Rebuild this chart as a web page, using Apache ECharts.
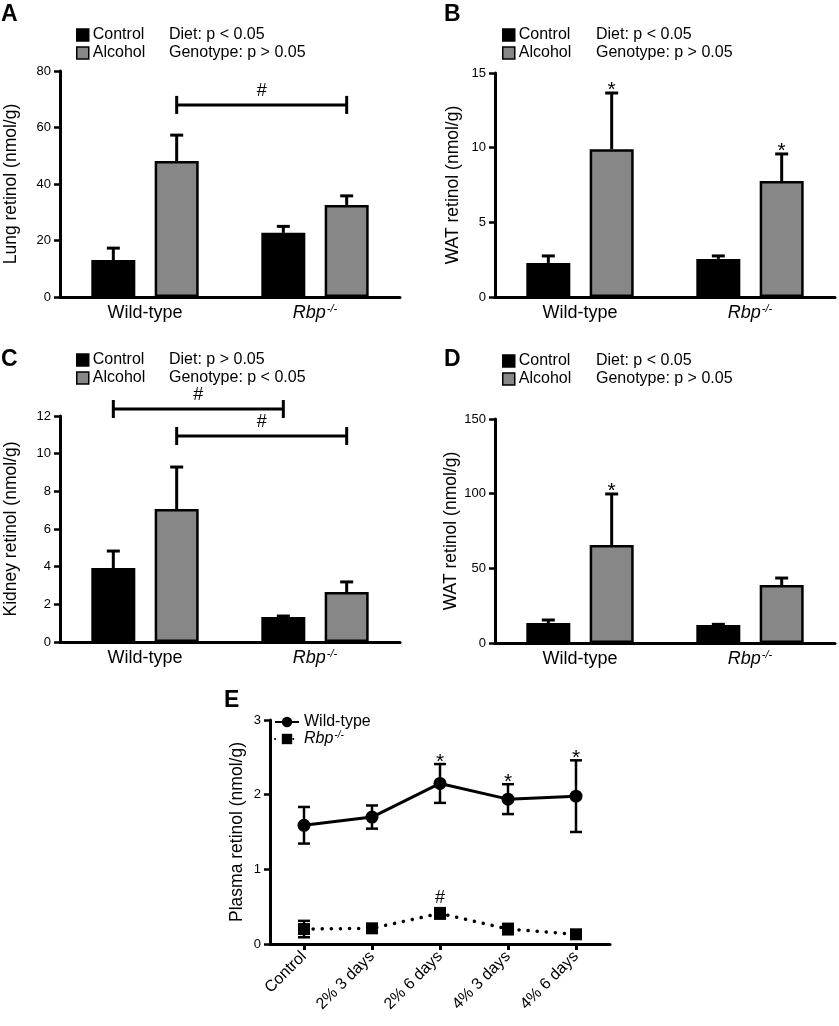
<!DOCTYPE html>
<html><head><meta charset="utf-8">
<script src="https://cdn.jsdelivr.net/npm/echarts@6/dist/echarts.min.js"></script>
<style>html,body{margin:0;padding:0;background:#fff}#c{width:839px;height:1026px}</style>
</head><body><div id="c"></div>
<script>
// ---------------- DATA ----------------
const groups = ['Wild-type', 'Rbp-/-'];
const barSeriesNames = ['Control', 'Alcohol'];

// Panel A: Lung retinol (nmol/g)
const lungControl = [13.1, 22.7];
const lungControlErr = [4.2, 2.3];
const lungAlcohol = [48.1, 32.6];
const lungAlcoholErr = [9.2, 3.2];
const lungMarks = [['', ''], ['', '']];
const lungBrackets = [[0, 1, 1, 1, 68, '#']]; // fromGroup, fromSeries, toGroup, toSeries, value, label
const lungStats = ['Diet: p < 0.05', 'Genotype: p > 0.05'];

// Panel B: WAT retinol (nmol/g)
const watBControl = [2.28, 2.55];
const watBControlErr = [0.47, 0.2];
const watBAlcohol = [9.9, 7.77];
const watBAlcoholErr = [3.76, 1.81];
const watBMarks = [['', ''], ['*', '*']];
const watBBrackets = [];
const watBStats = ['Diet: p < 0.05', 'Genotype: p > 0.05'];

// Panel C: Kidney retinol (nmol/g)
const kidneyControl = [3.93, 1.33];
const kidneyControlErr = [0.9, 0.05];
const kidneyAlcohol = [7.06, 2.65];
const kidneyAlcoholErr = [2.23, 0.54];
const kidneyMarks = [['', ''], ['', '']];
const kidneyBrackets = [[0, 0, 1, 0, 12.37, '#'], [0, 1, 1, 1, 10.94, '#']];
const kidneyStats = ['Diet: p > 0.05', 'Genotype: p < 0.05'];

// Panel D: WAT retinol (nmol/g)
const watDControl = [13.4, 12.0];
const watDControlErr = [2.0, 0.5];
const watDAlcohol = [65.6, 38.8];
const watDAlcoholErr = [34.2, 4.7];
const watDMarks = [['', ''], ['*', '']];
const watDBrackets = [];
const watDStats = ['Diet: p < 0.05', 'Genotype: p > 0.05'];

// Panel E: Plasma retinol (nmol/g)
const eCategories = ['Control', '2% 3 days', '2% 6 days', '4% 3 days', '4% 6 days'];
const eSeriesNames = ['Wild-type', 'Rbp-/-'];
const wtMean = [1.59, 1.70, 2.15, 1.94, 1.98];
const wtErr = [0.245, 0.155, 0.26, 0.2, 0.48];
const wtMarks = ['', '', '*', '*', '*'];
const rbpMean = [0.20, 0.21, 0.41, 0.20, 0.13];
const rbpErr = [0.11, 0.02, 0.07, 0.07, 0.02];
const rbpMarks = ['', '', '#', '', ''];

// Axis ticks
const yTicksA = {max: 80, interval: 20};
const yTicksB = {max: 15, interval: 5};
const yTicksC = {max: 12, interval: 2};
const yTicksD = {max: 150, interval: 50};
const yTicksE = {max: 3, interval: 1};

// ---------------- LAYOUT / STYLE ----------------
const FONT = '"Liberation Sans", Arial, Helvetica, sans-serif';
const BAR_W = 44, BAR_GAP = 0.44;
const OFF = (BAR_W + BAR_W * BAR_GAP) / 2;
const GRAY = '#878787';
const TXT = 16;

const panels = [
  {label: 'A', lx: 1, ly: 3, grid: {left: 60, top: 71, width: 340, height: 226}, ticks: yTicksA,
   yName: 'Lung retinol (nmol/g)', nameGap: 40, control: lungControl, controlErr: lungControlErr,
   alcohol: lungAlcohol, alcoholErr: lungAlcoholErr, marks: lungMarks, brackets: lungBrackets,
   stats: lungStats, legendX: 76, statsX: 169, row1: 34},
  {label: 'B', lx: 444, ly: 3, grid: {left: 495, top: 73, width: 340, height: 224}, ticks: yTicksB,
   yName: 'WAT retinol (nmol/g)', nameGap: 33, control: watBControl, controlErr: watBControlErr,
   alcohol: watBAlcohol, alcoholErr: watBAlcoholErr, marks: watBMarks, brackets: watBBrackets,
   stats: watBStats, legendX: 502, statsX: 596, row1: 34},
  {label: 'C', lx: 1, ly: 348, grid: {left: 60, top: 416, width: 340, height: 226}, ticks: yTicksC,
   yName: 'Kidney retinol (nmol/g)', nameGap: 40, control: kidneyControl, controlErr: kidneyControlErr,
   alcohol: kidneyAlcohol, alcoholErr: kidneyAlcoholErr, marks: kidneyMarks, brackets: kidneyBrackets,
   stats: kidneyStats, legendX: 76, statsX: 169, row1: 359},
  {label: 'D', lx: 444, ly: 348, grid: {left: 495, top: 419, width: 340, height: 224}, ticks: yTicksD,
   yName: 'WAT retinol (nmol/g)', nameGap: 33, control: watDControl, controlErr: watDControlErr,
   alcohol: watDAlcohol, alcoholErr: watDAlcoholErr, marks: watDMarks, brackets: watDBrackets,
   stats: watDStats, legendX: 502, statsX: 596, row1: 360}
];
const gridE = {left: 270, top: 720, width: 340, height: 224};

const rich = {
  n: {fontSize: 18, fontFamily: FONT, color: '#000', lineHeight: 22},
  i: {fontSize: 18, fontFamily: FONT, color: '#000', fontStyle: 'italic', lineHeight: 22},
  s: {fontSize: 11, fontFamily: FONT, color: '#000', fontStyle: 'italic', lineHeight: 11, verticalAlign: 'top', padding: [1, 0, 0, 1]}
};
const legRich = {
  n: {fontSize: TXT, fontFamily: FONT, color: '#000', lineHeight: 18},
  i: {fontSize: TXT, fontFamily: FONT, color: '#000', fontStyle: 'italic', lineHeight: 18},
  s: {fontSize: 10, fontFamily: FONT, color: '#000', fontStyle: 'italic', lineHeight: 10, verticalAlign: 'top', padding: [0, 0, 0, 1]}
};
function fmtName(v) {
  return v === 'Rbp-/-' ? '{i|Rbp}{s|-/-}' : '{n|' + v + '}';
}

const grids = [], xAxes = [], yAxes = [], series = [], legends = [], graphics = [];

function yAxisCfg(gi, ticks, name, gap, labelSize) {
  return {
    type: 'value', gridIndex: gi, min: 0, max: ticks.max, interval: ticks.interval,
    axisLine: {show: true, lineStyle: {color: '#000', width: 3}},
    axisTick: {show: true, length: 6, lineStyle: {color: '#000', width: 2.5}},
    splitLine: {show: false},
    axisLabel: {color: '#000', fontSize: labelSize, fontFamily: FONT, margin: 9},
    name: name, nameLocation: 'middle', nameGap: gap,
    nameTextStyle: {color: '#000', fontSize: 17.5, fontFamily: FONT}
  };
}

panels.forEach((p, gi) => {
  grids.push(p.grid);
  xAxes.push({
    type: 'category', gridIndex: gi, data: groups,
    axisLine: {lineStyle: {color: '#000', width: 3}},
    axisTick: {show: false},
    axisLabel: {formatter: fmtName, rich: rich, margin: 5}
  });
  yAxes.push(yAxisCfg(gi, p.ticks, p.yName, p.nameGap, 13));
  const vals = [p.control, p.alcohol];
  const errs = [p.controlErr, p.alcoholErr];
  barSeriesNames.forEach((nm, si) => {
    series.push({
      type: 'bar', name: nm, xAxisIndex: gi, yAxisIndex: gi, data: vals[si],
      barWidth: BAR_W, barGap: (BAR_GAP * 100) + '%',
      itemStyle: {color: si === 0 ? '#000' : GRAY, borderColor: '#000', borderWidth: 2.5},
      emphasis: {disabled: true}, silent: true, z: 2
    });
  });
  // error bars (upper only) + significance marks
  const ebData = [], ebMarks = [];
  [0, 1].forEach(si => groups.forEach((g, gj) => {
    ebData.push([gj, vals[si][gj], errs[si][gj], si]);
    ebMarks.push(p.marks[si][gj]);
  }));
  series.push({
    type: 'custom', name: 'err' + p.label, xAxisIndex: gi, yAxisIndex: gi, data: ebData, z: 3, silent: true,
    encode: {x: 0, y: 1},
    renderItem: (params, api) => {
      const gj = api.value(0), v = api.value(1), e = api.value(2), si = api.value(3);
      const base = api.coord([gj, v]);
      const top = api.coord([gj, v + e]);
      const x = base[0] + (si === 0 ? -OFF : OFF);
      const ch = [
        {type: 'line', shape: {x1: x, y1: base[1], x2: x, y2: top[1]}, style: {stroke: '#000', lineWidth: 3}},
        {type: 'line', shape: {x1: x - 6.5, y1: top[1], x2: x + 6.5, y2: top[1]}, style: {stroke: '#000', lineWidth: 3}}
      ];
      const m = ebMarks[params.dataIndex];
      if (m) ch.push({type: 'text', x: x, y: top[1] - 3, style: {text: m, fontSize: 21, fontFamily: FONT, fill: '#000', align: 'center', verticalAlign: 'middle'}});
      return {type: 'group', children: ch};
    }
  });
  if (p.brackets.length) {
    series.push({
      type: 'custom', name: 'brk' + p.label, xAxisIndex: gi, yAxisIndex: gi, data: p.brackets.map(b => b.slice(0, 5)),
      z: 3, silent: true, clip: false, encode: {x: 0, y: 4},
      renderItem: (params, api) => {
        const b = p.brackets[params.dataIndex];
        const y = api.coord([0, b[4]])[1];
        const x1 = api.coord([b[0], 0])[0] + (b[1] === 0 ? -OFF : OFF);
        const x2 = api.coord([b[2], 0])[0] + (b[3] === 0 ? -OFF : OFF);
        const st = {stroke: '#000', lineWidth: 3};
        return {type: 'group', children: [
          {type: 'line', shape: {x1: x1, y1: y, x2: x2, y2: y}, style: st},
          {type: 'line', shape: {x1: x1, y1: y - 9, x2: x1, y2: y + 9}, style: st},
          {type: 'line', shape: {x1: x2, y1: y - 9, x2: x2, y2: y + 9}, style: st},
          {type: 'text', x: (x1 + x2) / 2, y: y - 14, style: {text: b[5], fontSize: 18, fontFamily: FONT, fill: '#000', align: 'center', verticalAlign: 'middle'}}
        ]};
      }
    });
  }
  legends.push({
    data: barSeriesNames, orient: 'vertical', left: p.legendX, top: p.row1 - 7, padding: 0,
    itemWidth: 12, itemHeight: 12, itemGap: 2, selectedMode: false, icon: 'rect',
    itemStyle: {borderWidth: 1.5, borderColor: '#000'},
    textStyle: {fontSize: TXT, fontFamily: FONT, color: '#000', padding: [0, 0, 0, -1]}
  });
  graphics.push({type: 'text', left: p.lx, top: p.ly, style: {text: p.label, fontSize: 23, fontWeight: 'bold', fontFamily: FONT, fill: '#000'}});
  p.stats.forEach((t, k) => graphics.push({type: 'text', x: p.statsX, y: p.row1 + 1 + k * 18, style: {text: t, fontSize: TXT, fontFamily: FONT, fill: '#000', verticalAlign: 'middle'}}));
});

// Panel E
const gE = panels.length;
grids.push(gridE);
xAxes.push({
  type: 'category', gridIndex: gE, data: eCategories, boundaryGap: true,
  axisLine: {lineStyle: {color: '#000', width: 3}},
  axisTick: {show: true, alignWithLabel: true, length: 6, lineStyle: {color: '#000', width: 3}},
  axisLabel: {rotate: 45, color: '#000', fontSize: 16, fontFamily: FONT, margin: 10, interval: 0}
});
yAxes.push(yAxisCfg(gE, yTicksE, 'Plasma retinol (nmol/g)', 24, 13));
const eMeans = [wtMean, rbpMean], eErrs = [wtErr, rbpErr], eMarks = [wtMarks, rbpMarks];
eSeriesNames.forEach((nm, si) => {
  series.push({
    type: 'line', name: nm, xAxisIndex: gE, yAxisIndex: gE, data: eMeans[si],
    symbol: si === 0 ? 'circle' : 'rect', symbolSize: si === 0 ? 13 : 12,
    itemStyle: {color: '#000'},
    lineStyle: si === 0 ? {color: '#000', width: 3} : {color: '#000', width: 3.5, type: [0.1, 9], cap: 'round'},
    emphasis: {disabled: true}, silent: true, z: 3
  });
  series.push({
    type: 'custom', name: 'errE' + si, xAxisIndex: gE, yAxisIndex: gE, silent: true, z: 4,
    data: eMeans[si].map((v, k) => [k, v, eErrs[si][k]]), encode: {x: 0, y: 1},
    renderItem: (params, api) => {
      const k = api.value(0), v = api.value(1), e = api.value(2);
      const hi = api.coord([k, v + e]), lo = api.coord([k, v - e]);
      const x = hi[0];
      const st = {stroke: '#000', lineWidth: 2.5};
      const ch = [
        {type: 'line', shape: {x1: x, y1: hi[1], x2: x, y2: lo[1]}, style: st},
        {type: 'line', shape: {x1: x - 6, y1: hi[1], x2: x + 6, y2: hi[1]}, style: st},
        {type: 'line', shape: {x1: x - 6, y1: lo[1], x2: x + 6, y2: lo[1]}, style: st}
      ];
      const m = eMarks[si][params.dataIndex];
      if (m) ch.push({type: 'text', x: x, y: hi[1] - (m === '*' ? 2 : 10), style: {text: m, fontSize: m === '*' ? 21 : 18, fontFamily: FONT, fill: '#000', align: 'center', verticalAlign: 'middle'}});
      return {type: 'group', children: ch};
    }
  });
});
legends.push({
  data: eSeriesNames, orient: 'vertical', left: 274, top: 714, padding: 0,
  itemWidth: 24, itemHeight: 13, itemGap: 0, selectedMode: false,
  formatter: fmtName,
  textStyle: {fontSize: TXT, fontFamily: FONT, color: '#000', rich: legRich}
});
graphics.push({type: 'text', left: 224, top: 689, style: {text: 'E', fontSize: 23, fontWeight: 'bold', fontFamily: FONT, fill: '#000'}});

const chart = echarts.init(document.getElementById('c'), null, {renderer: 'canvas'});
chart.setOption({
  backgroundColor: '#fff', animation: false,
  textStyle: {fontFamily: FONT},
  grid: grids, xAxis: xAxes, yAxis: yAxes, series: series, legend: legends, graphic: graphics
});
</script></body></html>
